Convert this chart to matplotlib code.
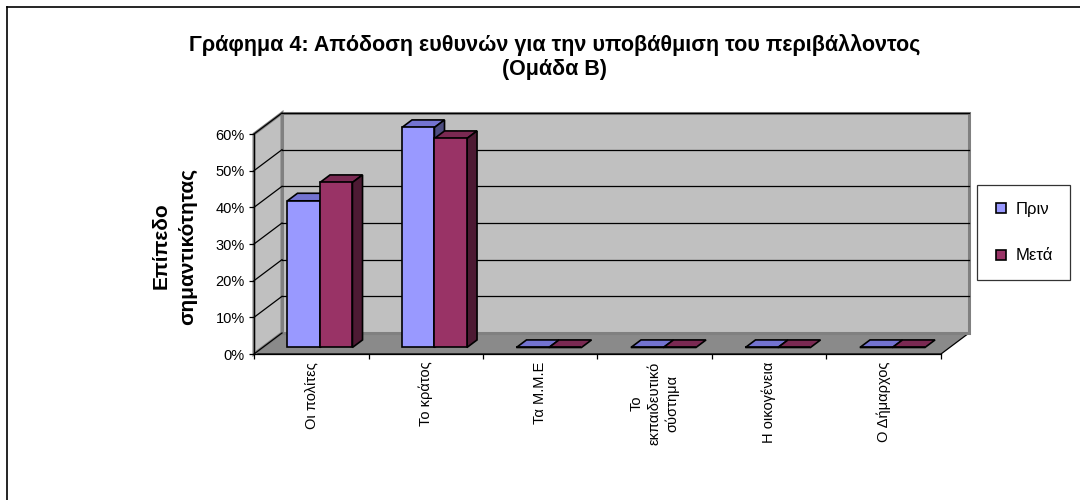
import matplotlib
matplotlib.use("Agg")
import matplotlib.pyplot as plt
from matplotlib.patches import Polygon
from matplotlib.lines import Line2D

plt.rcParams['font.family'] = ['Liberation Sans', 'DejaVu Sans']

# ---------------- data ----------------
categories = ["Οι πολίτες", "Το κράτος", "Τα Μ.Μ.Ε", "Το\nεκπαιδευτικό\nσύστημα",
              "Η οικογένεια", "Ο Δήμαρχος"]
series_names = ["Πριν", "Μετά"]
before = [0.40, 0.60, 0.0, 0.0, 0.0, 0.0]
after = [0.45, 0.57, 0.0, 0.0, 0.0, 0.0]
ytick_values = [0.0, 0.1, 0.2, 0.3, 0.4, 0.5, 0.6]
ytick_labels = ["0%", "10%", "20%", "30%", "40%", "50%", "60%"]
title_lines = ["Γράφημα 4: Απόδοση ευθυνών για την υποβάθμιση του περιβάλλοντος",
               "(Ομάδα Β)"]
ylabel = "Επίπεδο\nσημαντικότητας"

# ---------------- style ----------------
front_cols = ["#9999FF", "#993366"]
top_cols = ["#7373D0", "#7A2952"]
side_cols = ["#4D4D80", "#4D1A33"]

W, H = 1080, 500
fig = plt.figure(figsize=(W / 100, H / 100), dpi=100)

# front axis geometry in pixels
ax_left, ax_right = 254, 941
ax_bottom, ax_top = 354, 134
ax = fig.add_axes([ax_left / W, 1 - ax_bottom / H,
                   (ax_right - ax_left) / W, (ax_bottom - ax_top) / H])
n = len(categories)
ymax = ytick_values[-1]
ax.set_xlim(0, n)
ax.set_ylim(0, ymax)
ax.set_facecolor("none")

# depth offsets in data units
DX = 28 / ((ax_right - ax_left) / n)
DY = 21 / ((ax_bottom - ax_top) / ymax)

kw = dict(clip_on=False, transform=ax.transData)
# floor
ax.add_patch(Polygon([(0, 0), (n, 0), (n + DX, DY), (DX, DY)], closed=True,
                     facecolor="#8A8A8A", edgecolor="black", lw=0.9, zorder=1, **kw))
# back wall
ax.add_patch(Polygon([(DX, DY), (n + DX, DY), (n + DX, ymax + DY), (DX, ymax + DY)],
                     closed=True, facecolor="#C0C0C0", edgecolor="#808080", lw=2.2,
                     zorder=1.1, **kw))
# left wall
ax.add_patch(Polygon([(0, 0), (DX, DY), (DX, ymax + DY), (0, ymax)], closed=True,
                     facecolor="#C0C0C0", edgecolor="#808080", lw=2.2, zorder=1.1, **kw))
# gridlines
for v in ytick_values:
    if v > 0:
        ax.plot([DX, n + DX], [v + DY, v + DY], color="black", lw=0.9, zorder=1.5, **kw)
    ax.plot([0, DX], [v, v + DY], color="black", lw=0.9, zorder=1.5, **kw)

# bars
f0, f1 = 0.31, 0.67
d = f1 - f0
bw = 0.284
for j, vals in enumerate([before, after]):
    z = 3 + j
    lefts = [i + 0.5 - bw + j * bw + f0 * DX for i in range(n)]
    bottom = f0 * DY
    ax.bar(lefts, vals, width=bw, bottom=bottom, align="edge", color=front_cols[j],
           edgecolor="black", lw=1.2, zorder=z + 0.2, clip_on=False)
    for xl, v in zip(lefts, vals):
        top = bottom + v
        ax.add_patch(Polygon([(xl, top), (xl + bw, top), (xl + bw + d * DX, top + d * DY),
                              (xl + d * DX, top + d * DY)], closed=True,
                             facecolor=top_cols[j], edgecolor="black", lw=1.2,
                             zorder=z, **kw))
        if v > 0:
            ax.add_patch(Polygon([(xl + bw, bottom), (xl + bw + d * DX, bottom + d * DY),
                                  (xl + bw + d * DX, top + d * DY), (xl + bw, top)],
                                 closed=True, facecolor=side_cols[j], edgecolor="black",
                                 lw=1.2, zorder=z, **kw))

# axes, ticks
for s in ["top", "right"]:
    ax.spines[s].set_visible(False)
ax.spines["left"].set_linewidth(0.9)
ax.spines["bottom"].set_linewidth(0.9)
ax.set_yticks(ytick_values, ytick_labels)
ax.tick_params(axis="y", direction="out", length=3.5, width=0.9, pad=3, labelsize=10.5)
ax.set_xticks(range(n + 1), [""] * (n + 1))
ax.tick_params(axis="x", which="major", direction="out", length=3.5, width=0.9)
ax.set_xticks([i + 0.5 for i in range(n)], categories, minor=True)
ax.tick_params(axis="x", which="minor", length=0, pad=5.5, labelsize=10.5)
for lab in ax.get_xticklabels(minor=True):
    lab.set_rotation(90)
    lab.set_ha("center")
    lab.set_va("top")
    lab.set_multialignment("center")
    lab.set_linespacing(1.3)

# titles
fig.text(555 / W, 1 - 45 / H, title_lines[0], ha="center", va="center",
         fontsize=15.5, fontweight="bold")
fig.text(555 / W, 1 - 70 / H, title_lines[1], ha="center", va="center",
         fontsize=15.5, fontweight="bold")
fig.text(174 / W, 1 - 246 / H, ylabel, ha="center", va="center", rotation=90,
         fontsize=15, fontweight="bold", linespacing=1.5, multialignment="center")

# legend
handles = [Line2D([], [], marker="s", ls="none", markersize=7, markerfacecolor=c,
                  markeredgecolor="black", markeredgewidth=1.2) for c in front_cols]
leg = fig.legend(handles, series_names, loc="center",
                 bbox_to_anchor=(1023.5 / W, 1 - 232.5 / H), fontsize=12,
                 frameon=True, fancybox=False, edgecolor="black", labelspacing=1.9,
                 handlelength=0.8, handletextpad=0.5, borderpad=1.0, borderaxespad=0)
leg.get_frame().set_linewidth(0.9)

# outer chart border (top and left)
fig.add_artist(Line2D([7 / W, 1], [1 - 7 / H, 1 - 7 / H], color="black", lw=1.2,
                      transform=fig.transFigure))
fig.add_artist(Line2D([7 / W, 7 / W], [1 - 7 / H, 0], color="black", lw=1.2,
                      transform=fig.transFigure))

fig.savefig("out.png", dpi=100)
